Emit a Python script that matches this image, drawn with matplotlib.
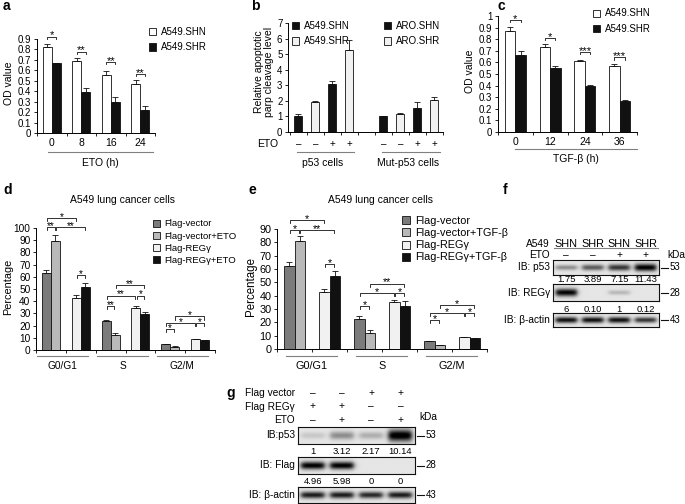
"""
REGγ panels: OD values, PARP cleavage, cell-cycle distribution and western blots.
"""

import matplotlib

matplotlib.use("Agg")
import matplotlib.pyplot as plt
import numpy as np
from matplotlib.legend import Legend
from matplotlib.lines import Line2D
from matplotlib.patches import Patch
from matplotlib.transforms import blended_transform_factory

plt.rcParams["font.family"] = ["Liberation Sans", "DejaVu Sans"]
plt.rcParams["axes.linewidth"] = 0.7

W, H = 685, 504
OUT_PATH = "out.png"

BLACK = "#111111"
WHITE = "#ffffff"
DARK = "#7b7b7b"
LIGHT = "#b9b9b9"
PALE = "#f1f1f1"
RULE = "#808080"

# a: OD value after ETO treatment
A_TIME = ["0", "8", "16", "24"]
A_SHN = [0.82, 0.685, 0.56, 0.47]
A_SHN_ERR = [0.035, 0.035, 0.03, 0.035]
A_SHR = [0.67, 0.39, 0.30, 0.225]
A_SHR_ERR = [0.0, 0.045, 0.045, 0.03]
A_SIG = ["*", "**", "**", "**"]
A_SIG_Y = [0.92, 0.78, 0.68, 0.565]

# b: relative PARP cleavage
B_VAL = [1.03, 1.93, 3.08, 5.29, 1.0, 1.18, 1.54, 2.08]
B_ERR = [0.1, 0.03, 0.17, 0.64, 0.0, 0.07, 0.36, 0.15]
B_ETO = ["–", "–", "+", "+", "–", "–", "+", "+"]
B_GROUPS = ["p53 cells", "Mut-p53 cells"]
B_LEGEND_L = ["A549.SHN", "A549.SHR"]
B_LEGEND_R = ["ARO.SHN", "ARO.SHR"]

# c: OD value after TGF-β treatment
C_TIME = ["0", "12", "24", "36"]
C_SHN = [0.87, 0.73, 0.615, 0.57]
C_SHN_ERR = [0.035, 0.03, 0.008, 0.017]
C_SHR = [0.66, 0.55, 0.40, 0.27]
C_SHR_ERR = [0.04, 0.022, 0.008, 0.005]
C_SIG = ["*", "*", "***", "***"]
C_SIG_Y = [0.965, 0.81, 0.69, 0.645]

# d / e: cell-cycle distribution
PHASES = ["G0/G1", "S", "G2/M"]
D_LABELS = ["Flag-vector", "Flag-vector+ETO", "Flag-REGγ", "Flag-REGγ+ETO"]
D_VEC = [63.0, 23.8, 4.8]
D_VEC_ERR = [2.6, 1.0, 0.5]
D_VEC_ETO = [89.7, 12.0, 2.6]
D_VEC_ETO_ERR = [4.8, 1.6, 0.4]
D_REG = [42.3, 34.8, 8.8]
D_REG_ERR = [2.7, 1.0, 0.4]
D_REG_ETO = [51.9, 29.8, 8.0]
D_REG_ETO_ERR = [3.0, 1.4, 0.5]
D_SIG = [
    (0, 0, 1, 100.5, "**"), (0, 1, 3, 100.5, "**"), (0, 0, 2, 108, "*"), (0, 2, 3, 61.5, "*"),
    (1, 0, 1, 35.7, "**"), (1, 0, 2, 44.5, "**"), (1, 2, 3, 44.5, "*"), (1, 1, 3, 53, "**"),
    (2, 0, 1, 17, "*"), (2, 0, 2, 22, "*"), (2, 2, 3, 22, "*"), (2, 1, 3, 27.5, "*"),
]

E_LABELS = ["Flag-vector", "Flag-vector+TGF-β", "Flag-REGγ", "Flag-REGγ+TGF-β"]
E_VEC = [62.5, 22.5, 5.8]
E_VEC_ERR = [2.7, 2.5, 0.5]
E_VEC_TGF = [81.0, 12.0, 2.8]
E_VEC_TGF_ERR = [3.5, 2.0, 0.4]
E_REG = [42.5, 35.0, 8.8]
E_REG_ERR = [2.2, 1.5, 0.4]
E_REG_TGF = [54.5, 32.5, 8.0]
E_REG_TGF_ERR = [3.7, 3.2, 0.5]
E_SIG = [
    (0, 0, 1, 89, "*"), (0, 1, 3, 89, "**"), (0, 0, 2, 96.5, "*"), (0, 2, 3, 63.7, "*"),
    (1, 0, 1, 32, "*"), (1, 0, 2, 42, "*"), (1, 2, 3, 42, "*"), (1, 1, 3, 49, "**"),
    (2, 0, 1, 21.5, "*"), (2, 0, 2, 27, "*"), (2, 2, 3, 27, "*"), (2, 1, 3, 33, "*"),
]

# f: western blot, A549 SHN/SHR +/- ETO
F_LANES = ["SHN", "SHR", "SHN", "SHR"]
F_ETO = ["–", "–", "+", "+"]
F_P53 = [0.35, 0.55, 0.7, 0.92]
F_P53_Q = ["1.75", "3.89", "7.15", "11.43"]
F_REG = [0.9, 0.0, 0.18, 0.0]
F_REG_Q = ["6", "0.10", "1", "0.12"]
F_ACTIN = [0.85, 0.85, 0.85, 0.7]

# g: western blot, Flag vector / Flag REGγ +/- ETO
G_VECTOR = ["–", "–", "+", "+"]
G_REGG = ["+", "+", "–", "–"]
G_ETO = ["–", "+", "–", "+"]
G_P53 = [0.12, 0.35, 0.22, 0.97]
G_P53_Q = ["1", "3.12", "2.17", "10.14"]
G_FLAG = [0.92, 0.92, 0.0, 0.0]
G_FLAG_Q = ["4.96", "5.98", "0", "0"]
G_ACTIN = [0.8, 0.8, 0.75, 0.8]

fig = plt.figure(figsize=(W / 100, H / 100), dpi=100)


def fx(px):
    return px / W


def fy(py):
    return 1 - py / H


def add_ax(left, top, right, bottom):
    return fig.add_axes([fx(left), fy(bottom), (right - left) / W, (bottom - top) / H])


def ftext(px, py, s, **kw):
    kw.setdefault("fontsize", 7)
    kw.setdefault("va", "center")
    fig.text(fx(px), fy(py), s, **kw)


def style(ax, fs=7):
    for side in ("top", "right"):
        ax.spines[side].set_visible(False)
    ax.tick_params(axis="both", which="both", direction="out", width=0.6, labelsize=fs)
    ax.tick_params(axis="y", length=2.5, pad=1.5)


def bars(ax, x, vals, errs, color, w):
    ax.bar(x, vals, w, color=color, edgecolor=BLACK, linewidth=0.6, zorder=2)
    ax.errorbar(x, vals, yerr=[np.zeros(len(errs)), errs], fmt="none", ecolor=BLACK,
                elinewidth=0.6, capsize=2, capthick=0.6, zorder=3)


def bracket(ax, x1, x2, y, label, hook, fs=7.5):
    ax.plot([x1, x1, x2, x2], [y - hook, y, y, y - hook], color=BLACK, lw=0.6,
            clip_on=False, zorder=4)
    ax.annotate(label, xy=((x1 + x2) / 2, y), xytext=(0, -1.2), textcoords="offset points",
                ha="center", va="baseline", fontsize=fs, annotation_clip=False)


def under(ax):
    return blended_transform_factory(ax.transData, fig.transFigure)


def under_line(ax, x1, x2, py):
    ax.plot([x1, x2], [fy(py)] * 2, transform=under(ax), clip_on=False, color=RULE, lw=0.8)


def under_text(ax, x, py, s, fs=7):
    ax.text(x, fy(py), s, transform=under(ax), ha="center", va="center", fontsize=fs,
            clip_on=False)


def square_legend(ax, labels, colors, px, py, fs, spacing):
    handles = [Patch(facecolor=c, edgecolor=BLACK, linewidth=0.6) for c in colors]
    leg = Legend(ax, handles, labels, loc="upper left", bbox_to_anchor=(fx(px), fy(py)),
                 bbox_transform=fig.transFigure, frameon=False, fontsize=fs,
                 handlelength=0.75, handleheight=0.75, handletextpad=0.45,
                 labelspacing=spacing, borderaxespad=0, borderpad=0)
    ax.add_artist(leg)
    return leg


def od_panel(box, times, v1, e1, v2, e2, sig, sig_y, ytop, yticks, legend_xy, line_x,
             line_py, title, title_px):
    ax = add_ax(*box)
    x = np.arange(len(times))
    w = 0.3
    bars(ax, x - w / 2, v1, e1, WHITE, w)
    bars(ax, x + w / 2, v2, e2, BLACK, w)
    for xi, s, y in zip(x, sig, sig_y):
        bracket(ax, xi - w / 2, xi + w / 2, y, s, 0.02, fs=8)
    ax.set_xlim(-0.5, len(times) - 0.5)
    ax.set_ylim(0, ytop)
    ax.set_yticks(yticks, [f"{t:g}" for t in yticks])
    ax.set_xticks(x, times)
    ax.set_xticks(np.arange(-0.5, len(times), 1), minor=True)
    style(ax)
    ax.tick_params(axis="x", which="major", length=0, labelsize=7.5)
    ax.tick_params(axis="x", which="minor", length=2.5)
    square_legend(ax, ["A549.SHN", "A549.SHR"], [WHITE, BLACK], legend_xy[0], legend_xy[1],
                  7, 0.55)
    under_line(ax, line_x[0], line_x[1], line_py[0])
    under_text(ax, sum(line_x) / 2, line_py[1], title, fs=7.5)
    ftext(title_px, (box[1] + box[3]) / 2 - 3, "OD value", rotation=90, ha="center",
          fontsize=7.5)
    return ax


def cycle_panel(box, series, errs, labels, sig, ytop, ystep, line_span, fs, legend_xy,
                leg_fs, leg_space, title_px, ylabel_px):
    ax = add_ax(*box)
    w = 0.3
    colors = [DARK, LIGHT, PALE, BLACK]
    g = np.arange(len(PHASES))

    def bar_x(phase, b):
        return 2 * phase + b // 2 + 0.5 + (w / 2 if b % 2 else -w / 2)

    for b, (vals, err, col) in enumerate(zip(series, errs, colors)):
        bars(ax, [bar_x(p, b) for p in g], vals, err, col, w)
    for phase, b1, b2, y, s in sig:
        bracket(ax, bar_x(phase, b1) + 0.02, bar_x(phase, b2) - 0.02, y, s, ytop * 0.025, fs)
    ax.set_xlim(0, 2 * len(PHASES))
    ax.set_ylim(0, ytop)
    ticks = np.arange(0, ytop + 1, ystep)
    ax.set_yticks(ticks, [f"{t:g}" for t in ticks])
    ax.set_xticks(np.arange(0, 2 * len(PHASES) + 1, 1), [])
    style(ax, fs)
    ax.tick_params(axis="x", length=2.5)
    for p, name in zip(g, PHASES):
        under_line(ax, 2 * p + line_span[0], 2 * p + line_span[1], 356)
        under_text(ax, 2 * p + sum(line_span) / 2, 366, name, fs=fs)
    square_legend(ax, labels, colors, legend_xy[0], legend_xy[1], leg_fs, leg_space)
    ftext(title_px, 200, "A549 lung cancer cells", ha="center", fontsize=7.5)
    ftext(ylabel_px, 287, "Percentage", rotation=90, ha="center", fontsize=fs + 0.5)
    return ax


def blot(box, vals, sigma):
    ax = add_ax(*box)
    xs = np.linspace(0, 4, 240)
    ys = np.linspace(0, 1, 40)
    img = np.full((ys.size, xs.size), 0.1)
    for i, v in enumerate(vals):
        horiz = 1 / (1 + np.exp((np.abs(xs - (i + 0.5)) - 0.4) / 0.05))
        s = sigma * (0.6 + 0.6 * v)
        vert = np.exp(-(((ys - 0.5) / s) ** 2))
        img += v * np.outer(vert, horiz)
    ax.imshow(np.clip(img, 0, 1), cmap="gray_r", vmin=0, vmax=1, extent=(0, 4, 0, 1),
              aspect="auto", interpolation="bilinear", origin="lower")
    ax.set_xticks([])
    ax.set_yticks([])
    for sp in ax.spines.values():
        sp.set_linewidth(0.8)
        sp.set_color(BLACK)
    return ax


def lane_px(box):
    step = (box[2] - box[0]) / 4
    return [box[0] + (i + 0.5) * step for i in range(4)]


def size_marker(px, py, s):
    fig.add_artist(Line2D([fx(px), fx(px + 7)], [fy(py)] * 2, color=BLACK, lw=0.8))
    ftext(px + 9, py, s, ha="left", fontsize=7)


def main() -> None:
    # a
    od_panel((37, 39, 155, 133), A_TIME, A_SHN, A_SHN_ERR, A_SHR, A_SHR_ERR, A_SIG, A_SIG_Y,
             0.9, np.round(np.arange(0, 0.91, 0.1), 1), (149, 27), (-0.13, 3.43), (152, 163),
             "ETO (h)", 9)

    # b
    ax = add_ax(288, 23, 443, 132)
    pos = np.r_[0:4, 5:9]
    cols = [BLACK, PALE] * 4
    bw = 0.47
    ax.bar(pos, B_VAL, bw, color=cols, edgecolor=BLACK, linewidth=0.6, zorder=2)
    ax.errorbar(pos, B_VAL, yerr=[np.zeros(len(B_ERR)), B_ERR], fmt="none", ecolor=BLACK,
                elinewidth=0.6, capsize=2, capthick=0.6, zorder=3)
    ax.set_xlim(-0.6, 8.5)
    ax.set_ylim(0, 7)
    ax.set_yticks(np.arange(0, 8, 1))
    ax.set_xticks(np.arange(-0.5, 9, 1), [])
    style(ax)
    ax.tick_params(axis="x", length=2.5)
    for p, s in zip(pos, B_ETO):
        under_text(ax, p, 144, s)
    ftext(278, 144, "ETO", ha="right", fontsize=7.5)
    for k, name in enumerate(B_GROUPS):
        grp = pos[4 * k:4 * k + 4]
        under_line(ax, grp[0] - 0.1, grp[-1] + 0.3, 152)
        under_text(ax, (grp[0] + grp[-1]) / 2 - 0.05, 163, name, fs=7.5)
    square_legend(ax, B_LEGEND_L, [BLACK, PALE], 292, 21, 7, 0.55)
    square_legend(ax, B_LEGEND_R, [BLACK, PALE], 384, 21, 7, 0.55)
    ftext(264, 72, "Relative apoptotic\nparp cleavage level", rotation=90, ha="center",
          fontsize=7.5, linespacing=1.0)

    # c
    od_panel((498, 16, 637, 132), C_TIME, C_SHN, C_SHN_ERR, C_SHR, C_SHR_ERR, C_SIG, C_SIG_Y,
             1.0, np.round(np.arange(0, 1.01, 0.1), 1), (593, 8.5), (-0.01, 3.5), (149, 159),
             "TGF-β (h)", 470)

    # d
    cycle_panel((36, 228, 215, 350), [D_VEC, D_VEC_ETO, D_REG, D_REG_ETO],
                [D_VEC_ERR, D_VEC_ETO_ERR, D_REG_ERR, D_REG_ETO_ERR], D_LABELS, D_SIG,
                100, 10, (0.05, 1.75), 7.3, (153, 219.5), 6.8, 0.32, 123, 8)

    # e
    cycle_panel((277, 229, 487, 349), [E_VEC, E_VEC_TGF, E_REG, E_REG_TGF],
                [E_VEC_ERR, E_VEC_TGF_ERR, E_REG_ERR, E_REG_TGF_ERR], E_LABELS, E_SIG,
                90, 10, (0.27, 1.72), 7.8, (402, 216), 7.8, 0.2, 380, 251)

    # f
    f_boxes = [(553, 260, 659, 275), (553, 284, 659, 301), (553, 313, 659, 327)]
    lanes = lane_px(f_boxes[0])
    ftext(550, 244, "A549", ha="right", fontsize=7.3)
    ftext(550, 255, "ETO", ha="right", fontsize=7.3)
    fig.add_artist(Line2D([fx(554), fx(658)], [fy(248)] * 2, color=RULE, lw=0.8))
    for px, lane, eto, q1, q2 in zip(lanes, F_LANES, F_ETO, F_P53_Q, F_REG_Q):
        ftext(px, 244, lane, ha="center", fontsize=7.8)
        ftext(px, 255, eto, ha="center", fontsize=7.3)
        ftext(px, 280, q1, ha="center", fontsize=6.8)
        ftext(px, 310, q2, ha="center", fontsize=6.8)
    ftext(667, 255, "kDa", ha="left", fontsize=7.3)
    for box, vals, sig, lab, kda in zip(f_boxes, [F_P53, F_REG, F_ACTIN], [0.22, 0.2, 0.2],
                                        ["IB: p53", "IB: REGγ", "IB: β-actin"],
                                        ["53", "28", "43"]):
        blot(box, vals, sig)
        mid = (box[1] + box[3]) / 2
        ftext(550, mid, lab, ha="right", fontsize=7.3)
        size_marker(661, mid, kda)

    # g
    g_boxes = [(298, 427, 415, 444), (298, 457, 415, 474), (298, 487, 415, 503)]
    lanes = lane_px(g_boxes[0])
    for py, lab, signs in zip([393, 406.5, 420], ["Flag vector", "Flag REGγ", "ETO"],
                              [G_VECTOR, G_REGG, G_ETO]):
        ftext(295, py, lab, ha="right", fontsize=7.3)
        for px, s in zip(lanes, signs):
            ftext(px, py, s, ha="center", fontsize=7.3)
    ftext(419, 417, "kDa", ha="left", fontsize=7.3)
    for px, q1, q2 in zip(lanes, G_P53_Q, G_FLAG_Q):
        ftext(px, 452, q1, ha="center", fontsize=6.8)
        ftext(px, 482, q2, ha="center", fontsize=6.8)
    for box, vals, sig, lab, kda in zip(g_boxes, [G_P53, G_FLAG, G_ACTIN], [0.3, 0.2, 0.2],
                                        ["IB:p53", "IB: Flag", "IB: β-actin"],
                                        ["53", "28", "43"]):
        blot(box, vals, sig)
        mid = (box[1] + box[3]) / 2
        ftext(295, mid, lab, ha="right", fontsize=7.3)
        size_marker(417, mid, kda)

    # panel letters
    for px, py, s in [(3, 6, "a"), (251, 6, "b"), (497, 6, "c"), (3, 190, "d"),
                      (248, 190, "e"), (503, 190, "f"), (226, 393, "g")]:
        ftext(px, py, s, ha="left", fontsize=10, fontweight="bold")

    fig.savefig(OUT_PATH, dpi=100)
    plt.close(fig)


if __name__ == "__main__":
    main()
